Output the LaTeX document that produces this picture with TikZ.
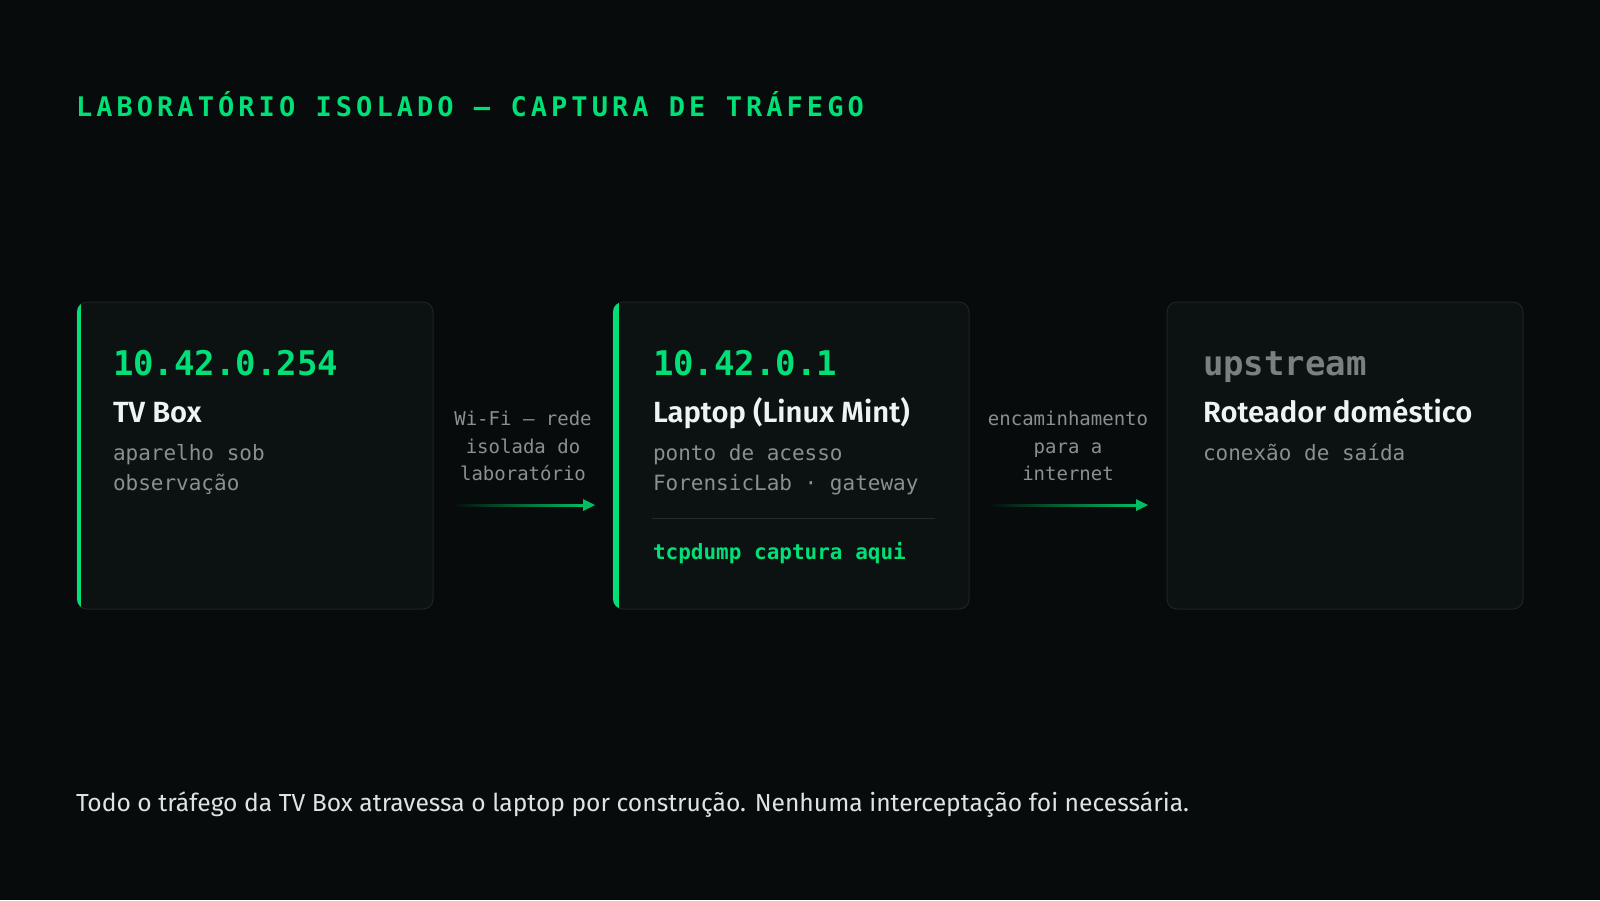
\documentclass[tikz,border=0pt]{standalone}
\usepackage{fontspec}
\usetikzlibrary{calc}
\setmainfont{Fira Sans}
\newfontfamily\headfont{Fira Sans SemiBold}
\newfontfamily\monof{DejaVu Sans Mono}
\newfontfamily\titlef{DejaVu Sans Mono}[LetterSpace=15]
\definecolor{bgc}{HTML}{070B0B}
\definecolor{cardc}{HTML}{0C1112}
\definecolor{borderc}{HTML}{1E2425}
\definecolor{grn}{HTML}{00E076}
\definecolor{grayt}{HTML}{8A9090}
\definecolor{upg}{HTML}{7A7F7F}
\definecolor{whitet}{HTML}{EEF3F3}
\definecolor{bottomt}{HTML}{DDE4E4}
\definecolor{sepc}{HTML}{252B2B}
\tikzset{
  card/.style={rectangle, rounded corners=10pt, minimum width=356pt, minimum height=307pt,
    inner sep=0pt, outer sep=0pt, fill=cardc, draw=borderc, line width=1pt},
  txt/.style={inner sep=0pt, outer sep=0pt, anchor=base west},
  iptext/.style={txt, text=grn, font=\monof\bfseries\fontsize{34}{40}\selectfont},
  uptext/.style={txt, text=upg, font=\monof\bfseries\fontsize{34}{40}\selectfont},
  headtext/.style={txt, text=whitet, font=\headfont\fontsize{29.2}{34}\selectfont},
  desctext/.style={txt, text=grayt, font=\monof\fontsize{21}{30}\selectfont},
  lbltext/.style={inner sep=0pt, outer sep=0pt, anchor=base, text=grayt, font=\monof\fontsize{19}{27}\selectfont},
}
\begin{document}
\begin{tikzpicture}[x=1pt,y=-1pt]
\useasboundingbox (0,0) rectangle (1600,900);
\fill[bgc] (0,0) rectangle (1600,900);

% title
\node[txt, text=grn, font=\titlef\bfseries\fontsize{27}{32}\selectfont] (title) at (76,116) {LABORATÓRIO ISOLADO — CAPTURA DE TRÁFEGO};

% cards
\node[card] (c1) at (255,455.5) {};
\node[card] (c2) at (791,455.5) {};
\node[card] (c3) at (1345,455.5) {};

\begin{scope}
\clip[rounded corners=10pt] (c1.north west) rectangle (c1.south east);
\fill[grn] (c1.north west) rectangle ([xshift=3.5pt]c1.south west);
\end{scope}
\begin{scope}
\clip[rounded corners=10pt] (c2.north west) rectangle (c2.south east);
\fill[grn] (c2.north west) rectangle ([xshift=6pt]c2.south west);
\end{scope}

% card 1
\node[iptext] (ip1) at (113,375) {10.42.0.254};
\node[headtext] (h1) at (113,422) {TV Box};
\node[desctext] (d1a) at (113,460) {aparelho sob};
\node[desctext] (d1b) at (113,490) {observação};

% card 2
\node[iptext] (ip2) at (653,375) {10.42.0.1};
\node[headtext] (h2) at (653,422) {Laptop (Linux Mint)};
\node[desctext] (d2a) at (653,460) {ponto de acesso};
\node[desctext] (d2b) at (653,490) {ForensicLab · gateway};
\coordinate (s1) at (652,518);
\coordinate (s2) at (935,518);
\draw[sepc, line width=1pt] (s1) -- (s2);
\node[txt, text=grn, font=\monof\bfseries\fontsize{21}{26}\selectfont] (tcp) at (653,559) {tcpdump captura aqui};

% card 3
\node[uptext] (ip3) at (1203,375) {upstream};
\node[headtext] (h3) at (1203,422) {Roteador doméstico};
\node[desctext] (d3a) at (1203,460) {conexão de saída};

% arrow labels
\node[lbltext] (l1a) at (523,425) {Wi-Fi — rede};
\node[lbltext] (l1b) at (523,453) {isolada do};
\node[lbltext] (l1c) at (523,480) {laboratório};
\node[lbltext] (l2a) at (1068,425) {encaminhamento};
\node[lbltext] (l2b) at (1068,453) {para a};
\node[lbltext] (l2c) at (1068,480) {internet};

% arrows
\coordinate (a1s) at ($(c1.east)+(19,49.5)$);
\coordinate (a1e) at ($(c2.west)+(-18,49.5)$);
\coordinate (a2s) at ($(c2.east)+(19,49.5)$);
\coordinate (a2e) at ($(c3.west)+(-19,49.5)$);
\shade[left color=bgc, right color=grn!85!black] ($(a1s)+(0,-1)$) rectangle ($(a1e)+(-10,1)$);
\fill[grn!85!black] (a1e) -- ($(a1e)+(-12,-6)$) -- ($(a1e)+(-12,6)$) -- cycle;
\shade[left color=bgc, right color=grn!85!black] ($(a2s)+(0,-1)$) rectangle ($(a2e)+(-10,1)$);
\fill[grn!85!black] (a2e) -- ($(a2e)+(-12,-6)$) -- ($(a2e)+(-12,6)$) -- cycle;

% bottom text
\node[txt, text=bottomt, font=\fontsize{24.65}{30}\selectfont] (foot) at (76,811) {Todo o tráfego da TV Box atravessa o laptop por construção. Nenhuma interceptação foi necessária.};
\end{tikzpicture}
\end{document}
